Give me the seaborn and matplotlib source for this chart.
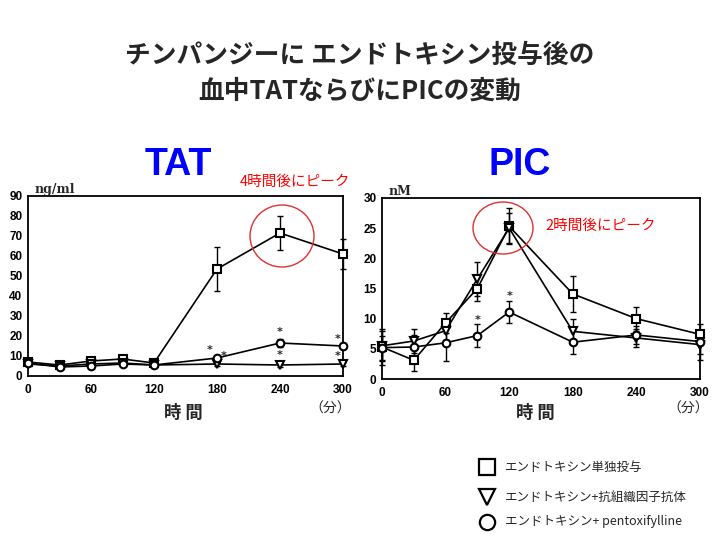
import numpy as np
import pandas as pd
import matplotlib
matplotlib.use("Agg")
import matplotlib.pyplot as plt
from matplotlib.patches import Ellipse
import seaborn as sns

sns.set_style("white")
plt.rcParams['font.family'] = ['Noto Sans CJK JP', 'DejaVu Sans']

times = [0, 30, 60, 90, 120, 180, 240, 300]

tat_alone = [7, 5.5, 7.5, 8.5, 6.5, 53.5, 71.5, 61]
tat_alone_err = [1, 0.5, 1, 1, 0.5, 11, 8.5, 7.5]
tat_antitf = [6, 5, 6, 6.5, 5.5, 6, 5.5, 6]
tat_antitf_err = [1, 0.5, 1, 1, 0.5, 1, 1, 1]
tat_ptx = [6.5, 4.5, 5, 6, 5.5, 9, 16.5, 15]
tat_ptx_err = [1, 0.5, 1, 1, 0.5, 1, 2, 1.5]

pic_alone = [5.3, 3.1, 9.3, 15, 25.3, 14.1, 10, 7.4]
pic_alone_err = [3, 1.8, 1.7, 2, 3, 3, 2, 1.7]
pic_antitf = [5.5, 6.3, 8, 16.6, 25, 7.9, 6.8, 5.7]
pic_antitf_err = [2.5, 2, 1.5, 2.8, 2.5, 2, 1.5, 2.5]
pic_ptx = [5.2, 5.3, 6, 7.2, 11.1, 6.1, 7.3, 6.2]
pic_ptx_err = [2, 2, 3, 1.9, 1.9, 1.9, 1.5, 2]

xticks = [0, 60, 120, 180, 240, 300]
tat_yticks = [0, 10, 20, 30, 40, 50, 60, 70, 80, 90]
pic_yticks = [0, 5, 10, 15, 20, 25, 30]

legend_labels = ["エンドトキシン単独投与", "エンドトキシン+抗組織因子抗体", "エンドトキシン+ pentoxifylline"]

fig = plt.figure(figsize=(7.2, 5.4), dpi=100)
ax1 = fig.add_axes([28/720, 1-376/540, 315/720, 180/540])
ax2 = fig.add_axes([382/720, 1-379/540, 318/720, 181/540])

tick_font = dict(family='Liberation Sans', weight='bold', size=8.5)

def draw(ax, series, ymax, yticks):
    for vals, errs, mk in series:
        df = pd.DataFrame({"t": times, "v": vals})
        sns.lineplot(data=df, x="t", y="v", ax=ax, color="black", lw=1.2,
                     marker=mk, markersize=5.5,
                     markerfacecolor="white", markeredgecolor="black",
                     markeredgewidth=1.5, clip_on=False, zorder=3)
        ax.errorbar(times, vals, yerr=errs, fmt='none', ecolor='black',
                    elinewidth=1.0, capsize=2.5, capthick=1.0, clip_on=False, zorder=2)
    ax.set_xlim(0, 300)
    ax.set_ylim(0, ymax)
    ax.set_xticks(xticks)
    ax.set_yticks(yticks)
    ax.set_xticklabels([str(t) for t in xticks], fontdict=tick_font)
    ax.set_yticklabels([str(t) for t in yticks], fontdict=tick_font)
    ax.tick_params(axis='x', direction='in', length=2, width=1, pad=6, colors='black')
    ax.tick_params(axis='y', direction='in', length=2, width=1, pad=4, colors='black')
    ax.set_xlabel("")
    ax.set_ylabel("")
    for s in ax.spines.values():
        s.set_visible(True)
        s.set_color("black")
        s.set_linewidth(1.3)

draw(ax1, [(tat_alone, tat_alone_err, 's'), (tat_antitf, tat_antitf_err, 'v'),
           (tat_ptx, tat_ptx_err, 'o')], 90, tat_yticks)
draw(ax2, [(pic_alone, pic_alone_err, 's'), (pic_antitf, pic_antitf_err, 'v'),
           (pic_ptx, pic_ptx_err, 'o')], 30, pic_yticks)

# significance asterisks
star = dict(ha='center', va='center', fontsize=8, fontweight='bold', family='DejaVu Sans')
ax1.text(173, 13, "*", **star); ax1.text(186, 10, "*", **star)
ax1.text(240, 22, "*", **star); ax1.text(240, 10.5, "*", **star)
ax1.text(295, 18.5, "*", **star); ax1.text(295, 10, "*", **star)
ax2.text(90, 9.8, "*", **star); ax2.text(120, 13.8, "*", **star)

# units
ax1.text(0.02, 1.0, "ng/ml", transform=ax1.transAxes, ha='left', va='bottom',
         fontsize=9, fontweight='bold', family='DejaVu Serif')
ax2.text(0.02, 1.0, "nM", transform=ax2.transAxes, ha='left', va='bottom',
         fontsize=9, fontweight='bold', family='DejaVu Serif')

# titles
fig.text(0.5, 1-55/540, "チンパンジーに エンドトキシン投与後の", ha='center', va='center',
         fontsize=18.5, fontweight='bold')
fig.text(0.5, 1-91/540, "血中TATならびにPICの変動", ha='center', va='center',
         fontsize=18.5, fontweight='bold')
fig.text(178/720, 1-165/540, "TAT", ha='center', va='center', fontsize=27,
         fontweight='bold', color='#0000ff', family='Liberation Sans')
fig.text(520/720, 1-165/540, "PIC", ha='center', va='center', fontsize=27,
         fontweight='bold', color='#0000ff', family='Liberation Sans')

# annotations
fig.text(240/720, 1-182/540, "4時間後にピーク", ha='left', va='center', fontsize=10.5, color='#ff0000')
fig.text(545/720, 1-226/540, "2時間後にピーク", ha='left', va='center', fontsize=10.5, color='#ff0000')
fig.add_artist(Ellipse((282/720, 1-236/540), 64/720, 62/540, transform=fig.transFigure,
                       fill=False, edgecolor='#e03030', lw=1.0))
fig.add_artist(Ellipse((503/720, 1-228/540), 60/720, 52/540, transform=fig.transFigure,
                       fill=False, edgecolor='#e03030', lw=1.0))

# axis labels
for x in (183, 535):
    fig.text(x/720, 1-413/540, "時 間", ha='center', va='center', fontsize=12.5, fontweight='bold')
fig.text(330/720, 1-409/540, "（分）", ha='center', va='center', fontsize=10)
fig.text(688/720, 1-409/540, "（分）", ha='center', va='center', fontsize=10)

# legend
for y, mk, lab in zip([467, 497, 522], ['s', 'v', 'o'], legend_labels):
    fig.lines.append(plt.Line2D([487/720], [1-y/540], marker=mk, markersize=11,
                                markerfacecolor='white', markeredgecolor='black',
                                markeredgewidth=1.6, transform=fig.transFigure))
    fig.text(505/720, 1-y/540, lab, ha='left', va='center', fontsize=9)

fig.savefig("out.png", dpi=100)
